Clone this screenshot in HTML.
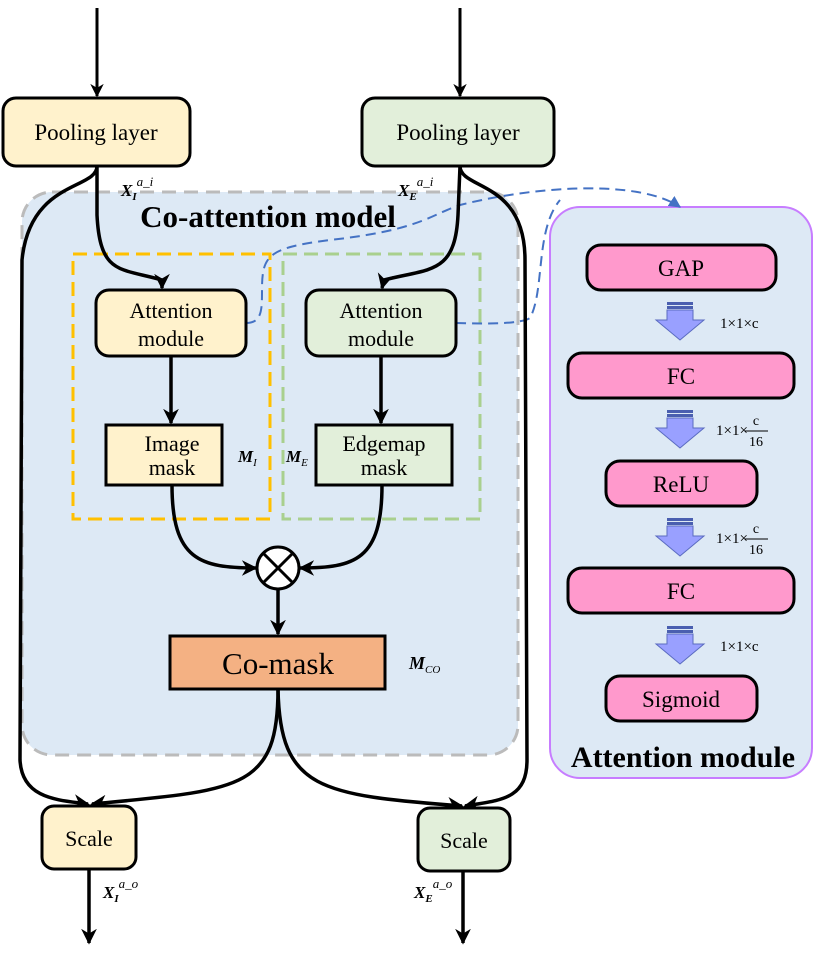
<!DOCTYPE html>
<html><head><meta charset="utf-8"><style>
html,body{margin:0;padding:0;background:#fff;}
svg{display:block;}
text{font-family:"Liberation Serif","Times New Roman",serif;}
</style></head><body>
<svg width="831" height="958" viewBox="0 0 831 958" xmlns="http://www.w3.org/2000/svg" font-family="Liberation Serif, serif">
<defs>
<marker id="ah" viewBox="0 0 10 10" refX="9" refY="5" markerWidth="4.5" markerHeight="4.5" orient="auto"><path d="M0,0 L10,5 L0,10 L3,5 z" fill="#000"/></marker>
<marker id="bh" viewBox="0 0 10 10" refX="9" refY="5" markerWidth="6" markerHeight="6" orient="auto"><path d="M0,0 L10,5 L0,10 z" fill="#4472c4"/></marker>
<g id="bigarrow"><rect x="-13" y="0" width="26" height="3" fill="#4a5fb0"/><rect x="-13" y="4" width="26" height="3" fill="#4a5fb0"/><path d="M-13,8 L13,8 L13,18 L24,18 L0,38 L-24,18 L-13,18 z" fill="#99a0ff" stroke="#5a6bc0" stroke-width="1"/></g>
</defs>
<rect x="22" y="192" width="496" height="563" rx="30" fill="#dde9f5" stroke="#bbb" stroke-width="3" stroke-dasharray="14,8"/>
<rect x="550" y="207" width="262" height="571" rx="30" fill="#dde9f5" stroke="#c77dff" stroke-width="2"/>
<rect x="73" y="254" width="197" height="265" fill="none" stroke="#ffc000" stroke-width="3" stroke-dasharray="14,7"/>
<rect x="283" y="254" width="197" height="265" fill="none" stroke="#a9d08e" stroke-width="3" stroke-dasharray="14,7"/>
<path d="M246,323 C262,323 262,310 262,290 C262,255 268,248 330,240 C420,230 430,215 460,205 C540,185 640,180 680,207" fill="none" stroke="#4472c4" stroke-width="2" stroke-dasharray="10,6" marker-end="url(#bh)"/>
<path d="M456,323 C490,324 520,324 530,318 C545,290 535,230 560,200" fill="none" stroke="#4472c4" stroke-width="2" stroke-dasharray="10,6"/>
<line x1="97" y1="8" x2="97" y2="96" stroke="#000" stroke-width="3" marker-end="url(#ah)"/>
<line x1="460" y1="8" x2="460" y2="96" stroke="#000" stroke-width="3" marker-end="url(#ah)"/>
<g fill="none" stroke="#000" stroke-width="3.5">
<path d="M97,166 C97,190 30,180 22,260 L20,760 C22,800 60,800 88,804" marker-end="url(#ah)"/>
<path d="M97,166 L97,215 C100,275 120,268 162,280 L162,288" marker-end="url(#ah)"/>
<path d="M460,166 C460,190 525,180 525,260 L527,760 C527,800 500,800 465,806" marker-end="url(#ah)"/>
<path d="M460,166 L458,215 C455,275 430,268 384,280 L382,288" marker-end="url(#ah)"/>
<line x1="171" y1="356" x2="171" y2="423" marker-end="url(#ah)"/>
<line x1="381" y1="356" x2="381" y2="423" marker-end="url(#ah)"/>
<path d="M172,485 C172,560 200,568 256,568" marker-end="url(#ah)"/>
<path d="M382,485 C382,560 355,568 300,568" marker-end="url(#ah)"/>
<line x1="278" y1="589" x2="278" y2="634" marker-end="url(#ah)"/>
<path d="M278,689 C278,790 240,790 92,804" marker-end="url(#ah)"/>
<path d="M278,689 C280,790 320,795 462,806" marker-end="url(#ah)"/>
<line x1="89" y1="869" x2="89" y2="943" marker-end="url(#ah)"/>
<line x1="463" y1="871" x2="463" y2="943" marker-end="url(#ah)"/>
</g>
<rect x="3" y="98" width="187" height="68" rx="13" fill="#fff2cc" stroke="#000" stroke-width="3"/>
<text x="96" y="140" font-size="23" text-anchor="middle">Pooling layer</text>
<rect x="362" y="98" width="192" height="68" rx="13" fill="#e2efda" stroke="#000" stroke-width="3"/>
<text x="458" y="140" font-size="23" text-anchor="middle">Pooling layer</text>
<text x="121" y="196" font-size="17" font-style="italic" font-weight="bold">X<tspan font-size="11" dy="4">I</tspan><tspan font-size="13" dy="-14" font-weight="normal">a_i</tspan></text>
<text x="398" y="196" font-size="17" font-style="italic" font-weight="bold">X<tspan font-size="11" dy="4">E</tspan><tspan font-size="13" dy="-14" font-weight="normal">a_i</tspan></text>
<text x="268" y="227" font-size="31" font-weight="bold" text-anchor="middle">Co-attention model</text>
<rect x="96" y="290" width="150" height="66" rx="13" fill="#fff2cc" stroke="#000" stroke-width="3"/>
<text x="171" y="318" font-size="22" text-anchor="middle">Attention</text>
<text x="171" y="346" font-size="22" text-anchor="middle">module</text>
<rect x="306" y="290" width="150" height="66" rx="13" fill="#e2efda" stroke="#000" stroke-width="3"/>
<text x="381" y="318" font-size="22" text-anchor="middle">Attention</text>
<text x="381" y="346" font-size="22" text-anchor="middle">module</text>
<rect x="106" y="425" width="116" height="60" fill="#fff2cc" stroke="#000" stroke-width="3"/>
<text x="172" y="451" font-size="22" text-anchor="middle">Image</text>
<text x="172" y="475" font-size="22" text-anchor="middle">mask</text>
<rect x="316" y="425" width="136" height="60" fill="#e2efda" stroke="#000" stroke-width="3"/>
<text x="384" y="451" font-size="22" text-anchor="middle">Edgemap</text>
<text x="384" y="475" font-size="22" text-anchor="middle">mask</text>
<text x="238" y="462" font-size="17" font-style="italic" font-weight="bold">M<tspan font-size="11" dy="4" font-weight="normal">I</tspan></text>
<text x="286" y="462" font-size="17" font-style="italic" font-weight="bold">M<tspan font-size="11" dy="4" font-weight="normal">E</tspan></text>
<circle cx="278" cy="568" r="21" fill="#fff" stroke="#000" stroke-width="3"/>
<path d="M263,553 L293,583 M293,553 L263,583" stroke="#000" stroke-width="3"/>
<rect x="170" y="636" width="215" height="53" fill="#f4b183" stroke="#000" stroke-width="3"/>
<text x="278" y="674" font-size="31" text-anchor="middle">Co-mask</text>
<text x="409" y="669" font-size="18" font-style="italic" font-weight="bold">M<tspan font-size="11" dy="4" font-weight="normal">CO</tspan></text>
<rect x="42" y="806" width="94" height="63" rx="12" fill="#fff2cc" stroke="#000" stroke-width="3"/>
<text x="89" y="846" font-size="22" text-anchor="middle">Scale</text>
<rect x="418" y="808" width="92" height="63" rx="12" fill="#e2efda" stroke="#000" stroke-width="3"/>
<text x="464" y="848" font-size="22" text-anchor="middle">Scale</text>
<text x="103" y="898" font-size="17" font-style="italic" font-weight="bold">X<tspan font-size="11" dy="4">I</tspan><tspan font-size="13" dy="-14" font-weight="normal">a_o</tspan></text>
<text x="414" y="898" font-size="17" font-style="italic" font-weight="bold">X<tspan font-size="11" dy="4">E</tspan><tspan font-size="13" dy="-14" font-weight="normal">a_o</tspan></text>
<g stroke="#000" stroke-width="3" fill="#ff99cc">
<rect x="587" y="245" width="189" height="45" rx="14"/>
<rect x="568" y="353" width="226" height="45" rx="14"/>
<rect x="606" y="461" width="151" height="45" rx="14"/>
<rect x="568" y="568" width="226" height="45" rx="14"/>
<rect x="606" y="676" width="151" height="45" rx="14"/>
</g>
<g font-size="23" text-anchor="middle">
<text x="681" y="276">GAP</text>
<text x="681" y="384">FC</text>
<text x="681" y="492">ReLU</text>
<text x="681" y="599">FC</text>
<text x="681" y="707">Sigmoid</text>
</g>
<use href="#bigarrow" x="680" y="302"/>
<use href="#bigarrow" x="680" y="410"/>
<use href="#bigarrow" x="680" y="518"/>
<use href="#bigarrow" x="680" y="626"/>
<g font-size="15">
<text x="720" y="328">1×1×c</text>
<text x="716" y="435">1×1×</text>
<text x="756" y="425" font-size="14" text-anchor="middle">c</text><line x1="745" y1="431" x2="768" y2="431" stroke="#000" stroke-width="1"/><text x="756" y="446" font-size="14" text-anchor="middle">16</text>
<text x="716" y="543">1×1×</text>
<text x="756" y="533" font-size="14" text-anchor="middle">c</text><line x1="745" y1="539" x2="768" y2="539" stroke="#000" stroke-width="1"/><text x="756" y="554" font-size="14" text-anchor="middle">16</text>
<text x="720" y="651">1×1×c</text>
</g>
<text x="683" y="767" font-size="30" font-weight="bold" text-anchor="middle">Attention module</text>
</svg>
</body></html>
